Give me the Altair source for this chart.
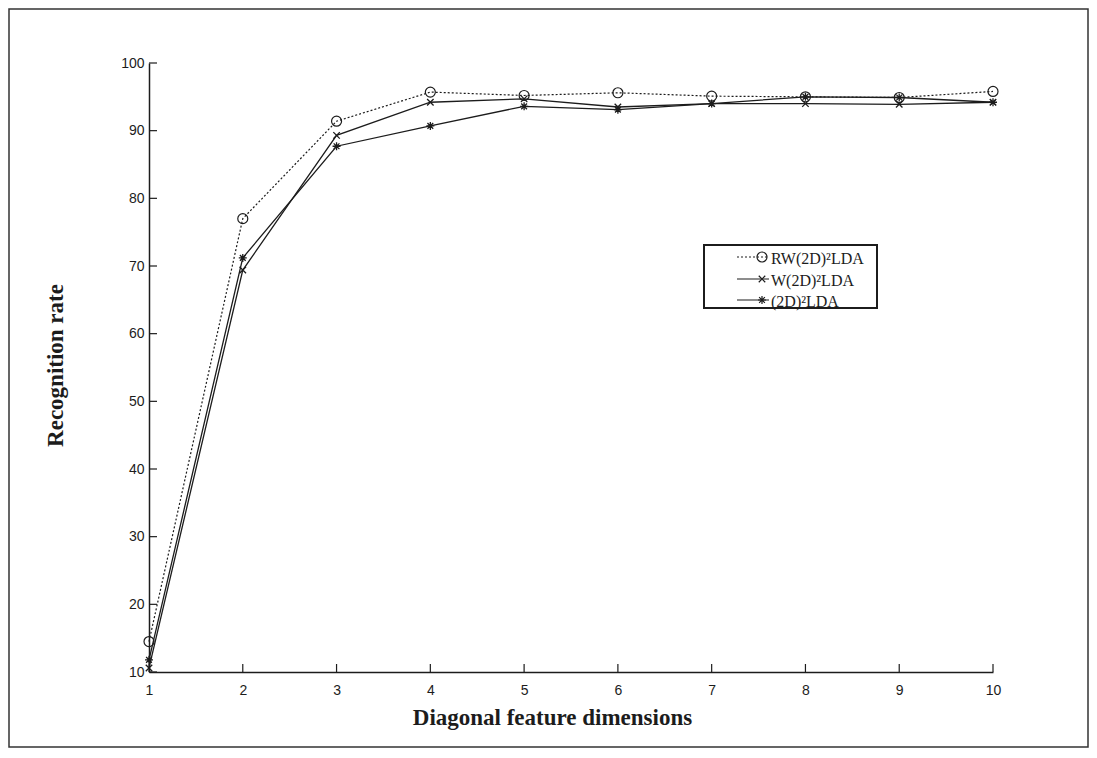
import altair as alt
import pandas as pd

dims = list(range(1, 11))
rw = [14.5, 77.0, 91.4, 95.7, 95.2, 95.6, 95.1, 95.0, 94.9, 95.8]
wl = [10.6, 69.4, 89.3, 94.2, 94.7, 93.5, 94.0, 94.0, 93.9, 94.2]
d2 = [11.8, 71.2, 87.7, 90.7, 93.6, 93.1, 94.0, 95.0, 94.9, 94.2]
series_names = ["RW(2D)²LDA", "W(2D)²LDA", "(2D)²LDA"]
y_ticks = list(range(10, 101, 10))
x_ticks = dims
x_title = "Diagonal feature dimensions"
y_title = "Recognition rate"

W, H = 844, 609
INK = "#1c1c1c"
X_SHAPE = "M-1,-1L1,1M-1,1L1,-1"
STAR_SHAPE = "M-1,0L1,0M0,-1L0,1M-0.72,-0.72L0.72,0.72M-0.72,0.72L0.72,-0.72"

xs = alt.Scale(domain=[1, 10], nice=False)
ys = alt.Scale(domain=[10, 100], nice=False)

xaxis = alt.Axis(values=x_ticks, ticks=False, grid=False, domainColor=INK, domainWidth=1.5,
                 labelFont="Liberation Sans", labelFontSize=14, labelColor=INK, labelPadding=11,
                 labelFlush=False,
                 title=x_title, titleFont="Liberation Serif", titleFontSize=23, titleFontWeight="bold",
                 titleColor=INK, titleX=403, titleY=52, titleAlign="center", titleBaseline="alphabetic")
yaxis = alt.Axis(values=y_ticks, ticks=False, grid=False, domainColor=INK, domainWidth=1.5,
                 labelFont="Liberation Sans", labelFontSize=14, labelColor=INK, labelPadding=5,
                 labelFlush=False,
                 title=y_title, titleFont="Liberation Serif", titleFontSize=23, titleFontWeight="bold",
                 titleColor=INK, titleAngle=270, titleX=-87, titleY=302, titleAlign="center",
                 titleBaseline="alphabetic")

X = alt.X("x:Q", scale=xs, axis=xaxis)
Y = alt.Y("y:Q", scale=ys, axis=yaxis)

df_rw = pd.DataFrame({"x": dims, "y": rw})
df_w = pd.DataFrame({"x": dims, "y": wl})
df_d2 = pd.DataFrame({"x": dims, "y": d2})

line_rw = alt.Chart(df_rw).mark_line(color=INK, strokeWidth=1.2, strokeDash=[2, 2]).encode(x=X, y=Y)
line_w = alt.Chart(df_w).mark_line(color=INK, strokeWidth=1.3).encode(x=X, y=Y)
line_d2 = alt.Chart(df_d2).mark_line(color=INK, strokeWidth=1.3).encode(x=X, y=Y)

pt_rw = alt.Chart(df_rw).mark_point(shape="circle", size=100, filled=False, color=INK, strokeWidth=1.2,
                                    opacity=1).encode(x=X, y=Y)
pt_w = alt.Chart(df_w).mark_point(shape=X_SHAPE, size=42, filled=False, color=INK, strokeWidth=1.3,
                                  opacity=1).encode(x=X, y=Y)
pt_d2 = alt.Chart(df_d2).mark_point(shape=STAR_SHAPE, size=64, filled=False, color=INK, strokeWidth=1.3,
                                    opacity=1).encode(x=X, y=Y)

# inward ticks
ytk = alt.Chart(pd.DataFrame({"y": y_ticks})).mark_rule(color=INK, strokeWidth=1.2).encode(
    y=Y, x=alt.value(0), x2=alt.value(8))
xtk = alt.Chart(pd.DataFrame({"x": x_ticks})).mark_rule(color=INK, strokeWidth=1.2).encode(
    x=X, y=alt.value(H), y2=alt.value(H - 8))

one = pd.DataFrame({"a": [0]})
border = alt.Chart(one).mark_rect(filled=False, stroke="#333", strokeWidth=1.5).encode(
    x=alt.value(-140), x2=alt.value(939), y=alt.value(-54), y2=alt.value(684))

# legend
lg_box = alt.Chart(one).mark_rect(fill="white", stroke=INK, strokeWidth=2).encode(
    x=alt.value(555), x2=alt.value(728), y=alt.value(182), y2=alt.value(245))
rows_y = [194, 216, 237]
lg_layers = [lg_box]
dashes = [[2, 2], [1, 0], [1, 0]]
shapes = ["circle", X_SHAPE, STAR_SHAPE]
sizes = [100, 42, 64]
for i, name in enumerate(series_names):
    ry = rows_y[i]
    lg_layers.append(alt.Chart(one).mark_rule(color=INK, strokeWidth=1.2, strokeDash=dashes[i]).encode(
        x=alt.value(588), x2=alt.value(620), y=alt.value(ry)))
    lg_layers.append(alt.Chart(one).mark_point(shape=shapes[i], size=sizes[i], filled=False, color=INK,
                                               strokeWidth=1.2, opacity=1).encode(
        x=alt.value(613), y=alt.value(ry)))
    lg_layers.append(alt.Chart(pd.DataFrame({"t": [name]})).mark_text(
        font="Liberation Serif", fontSize=16, color=INK, align="left", baseline="middle").encode(
        x=alt.value(622), y=alt.value(ry + 2), text="t:N"))

chart = alt.layer(
    border, line_rw, line_w, line_d2, ytk, xtk, pt_rw, pt_w, pt_d2, *lg_layers
).properties(
    width=W, height=H,
    autosize=alt.AutoSizeParams(type="none"),
    padding={"left": 141, "top": 55, "right": 96, "bottom": 78},
    background="white",
).configure_view(stroke="transparent")

chart.save("out.html", embed_options={"renderer": "svg", "actions": False})
